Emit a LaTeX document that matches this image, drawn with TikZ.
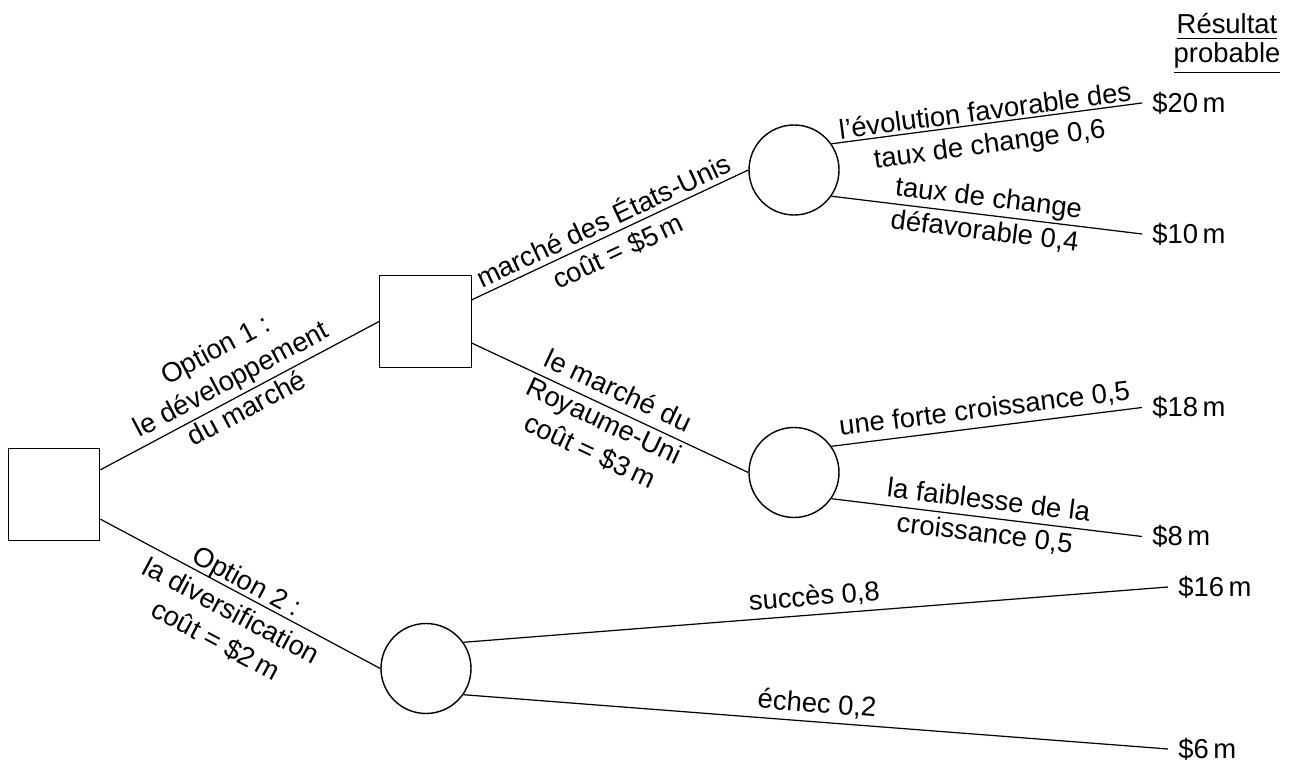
\documentclass[tikz,border=0pt]{standalone}
\usepackage{amsmath, amsfonts, amssymb}
\usepackage{xcolor}
\usepackage{fontspec}
\setmainfont{Liberation Sans}
\usepackage{tikz}

\begin{document}
\begin{tikzpicture}[
  every node/.style={font=\fontsize{15.6}{19}\selectfont},
  decision/.style={draw, line width=0.8pt, minimum size=1.83cm, inner sep=0pt},
  chance/.style={draw, circle, line width=0.8pt, minimum size=1.8cm, inner sep=0pt},
  outcome/.style={anchor=west, inner xsep=0.2cm, inner ysep=0pt},
  branch/.style={line width=0.7pt},
  lbl/.style={sloped, midway, align=center, inner sep=3pt}
]
\useasboundingbox (0,0) rectangle (25.9,15.3);
\node[decision] (start) at (1.08,5.41) {};
\node[decision] (dev) at (8.51,8.87) {};
\node[chance] (us) at (15.88,11.9) {};
\node[chance] (uk) at (15.88,5.85) {};
\node[chance] (div) at (8.52,1.93) {};
\node[outcome] (r20) at (22.84,13.24) {\$20\,m};
\node[outcome] (r10) at (22.84,10.62) {\$10\,m};
\node[outcome] (r18) at (22.84,7.15) {\$18\,m};
\node[outcome] (r8) at (22.84,4.57) {\$8\,m};
\node[outcome] (r16) at (23.36,3.56) {\$16\,m};
\node[outcome] (r6) at (23.36,0.32) {\$6\,m};
\node[align=center, font=\fontsize{15.6}{16.5}\selectfont] (head) at (24.54,14.42) {\underline{Résultat}\\ \underline{probable}};
\draw[branch] (start) -- (dev.west) node[lbl, yshift=0.39cm] (opt1) {Option 1 :\\ le développement\\ du marché};
\draw[branch] (start) -- (div.west) node[lbl, yshift=-0.39cm] (opt2) {Option 2 :\\ la diversification\\ coût = \$2\,m};
\draw[branch] (dev) -- (us.west) node[lbl] (usa) {marché des États-Unis\\ coût = \$5\,m};
\draw[branch] (dev) -- (uk.west) node[lbl, yshift=-0.29cm] (ruk) {le marché du\\ Royaume-Uni\\ coût = \$3\,m};
\draw[branch] (us.35) -- (r20.west) node[lbl, yshift=-0.12cm] (fav) {l’évolution favorable des\\ taux de change 0,6};
\draw[branch] (us.-35) -- (r10.west) node[lbl] (defav) {taux de change\\ défavorable 0,4};
\draw[branch] (uk.35) -- (r18.west) node[lbl, above] (forte) {une forte croissance 0,5};
\draw[branch] (uk.-35) -- (r8.west) node[lbl] (faible) {la faiblesse de la\\ croissance 0,5};
\draw[branch] (div.35) -- (r16.west) node[lbl, above] (succes) {succès 0,8};
\draw[branch] (div.-35) -- (r6.west) node[lbl, above] (echec) {échec 0,2};
\end{tikzpicture}
\end{document}
